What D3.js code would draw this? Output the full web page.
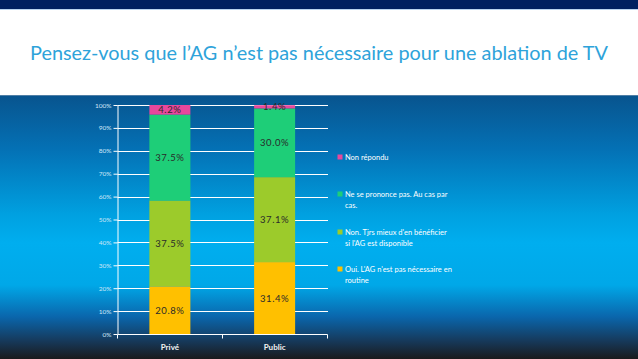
<!DOCTYPE html>
<html><head><meta charset="utf-8">
<script src="https://cdn.jsdelivr.net/npm/d3@7"></script>
<style>html,body{margin:0;padding:0;overflow:hidden;background:#fff}</style>
</head><body>
<svg id="c" width="638" height="359"></svg>
<script>
const categories = ["Privé", "Public"];
const seriesNames = [
  "Oui. L'AG n'est pas nécessaire en routine",
  "Non. Tjrs mieux d'en bénéficier si l'AG est disponible",
  "Ne se prononce pas. Au cas par cas.",
  "Non répondu"
];
const legendLines = [
  ["Oui. L'AG n'est pas nécessaire en", "routine"],
  ["Non. Tjrs mieux d'en bénéficier", "si l'AG est disponible"],
  ["Ne se prononce pas. Au cas par", "cas."],
  ["Non répondu"]
];
const oui = [20.8, 31.4];
const non = [37.5, 37.1];
const nsp = [37.5, 30.0];
const nr = [4.2, 1.4];
const colors = ["#ffc000", "#9ccb2b", "#1ece78", "#e8489c"];
const yTicks = [0,10,20,30,40,50,60,70,80,90,100];
const title = "Pensez-vous que l’AG n’est pas nécessaire pour une ablation de TV";

const svg = d3.select("#c");
const defs = svg.append("defs");
const g = defs.append("linearGradient").attr("id","bg").attr("x1",0).attr("y1",0).attr("x2",0).attr("y2",1);
[[0,"#08548e"],[0.2,"#0470b4"],[0.45,"#00a0e0"],[0.56,"#00aeef"],[0.72,"#00a8e8"],[0.84,"#0a66ac"],[0.93,"#163a5c"],[1,"#1a1a1c"]]
  .forEach(([o,c])=>g.append("stop").attr("offset",o).attr("stop-color",c));

svg.append("rect").attr("x",0).attr("y",0).attr("width",638).attr("height",359).attr("fill","#ffffff");
svg.append("rect").attr("x",0).attr("y",0).attr("width",638).attr("height",9).attr("fill","#002060");
svg.append("rect").attr("x",0).attr("y",9).attr("width",638).attr("height",1).attr("fill","#b9d3ee");
svg.append("rect").attr("x",0).attr("y",95).attr("width",638).attr("height",264).attr("fill","url(#bg)");
svg.append("rect").attr("x",0).attr("y",95).attr("width",638).attr("height",1).attr("fill","#4f7fa6");

svg.append("text").attr("x",319).attr("y",60).attr("text-anchor","middle")
  .attr("font-family","Lato, 'Open Sans', sans-serif").attr("font-size",20)
  .attr("fill","#2ea3da").attr("textLength",578).attr("lengthAdjust","spacingAndGlyphs")
  .text(title);

const x = d3.scaleBand().domain(categories).range([117.5,327]).paddingInner(0).paddingOuter(0);
const y = d3.scaleLinear().domain([0,100]).range([334,105]);
const barW = 41;

// gridlines
svg.append("g").selectAll("line").data(yTicks.slice(1)).join("line")
  .attr("x1",117.5).attr("x2",328).attr("y1",d=>Math.round(y(d))+0.5).attr("y2",d=>Math.round(y(d))+0.5)
  .attr("stroke","#ffffff").attr("stroke-width",1);

const data = categories.map((c,i)=>({cat:c, vals:[oui[i],non[i],nsp[i],nr[i]]}));
const stackData = categories.map((c,i)=>({cat:c, s0:oui[i], s1:non[i], s2:nsp[i], s3:nr[i]}));
const stack = d3.stack().keys(["s0","s1","s2","s3"]);
const layers = stack(stackData);

layers.forEach((layer,k)=>{
  svg.append("g").selectAll("rect").data(layer).join("rect")
    .attr("x",d=>x(d.data.cat)+x.bandwidth()/2-barW/2)
    .attr("width",barW)
    .attr("y",d=>y(d[1]))
    .attr("height",d=>y(d[0])-y(d[1]))
    .attr("fill",colors[k]);
});
layers.forEach((layer,k)=>{
  svg.append("g").selectAll("text").data(layer).join("text")
    .attr("x",d=>x(d.data.cat)+x.bandwidth()/2)
    .attr("y",d=>(y(d[0])+y(d[1]))/2+3.5)
    .attr("text-anchor","middle")
    .attr("font-family","Lato, 'Open Sans', sans-serif").attr("font-size",9.5)
    .attr("fill","#2a2a2a").attr("letter-spacing",0.6)
    .text(d=>(d[1]-d[0]).toFixed(1)+"%");
});

// y axis
const yAxis = d3.axisLeft(y).tickValues(yTicks).tickSize(4).tickFormat(d=>d+"%");
const ya = svg.append("g").attr("transform","translate(117.5,0)").call(yAxis);
ya.select(".domain").attr("stroke","#ffffff").attr("d","M-4,105.5H0.5V334.5H-4");
ya.selectAll(".tick line").attr("stroke","#ffffff");
ya.selectAll(".tick text").attr("fill","#cfe6f7").attr("font-family","Lato, sans-serif").attr("font-size",6.5).attr("x",-6);
ya.selectAll(".domain").attr("d","M0.5,105V334.5");

// x axis
const xa = svg.append("g").attr("transform","translate(0,334.5)");
xa.append("line").attr("x1",117.5).attr("x2",327.5).attr("y1",0).attr("y2",0).attr("stroke","#fff");
xa.selectAll("line.t").data([117.5,222.5,327.5]).join("line").attr("class","t")
  .attr("x1",d=>d).attr("x2",d=>d).attr("y1",0).attr("y2",4).attr("stroke","#fff");
xa.selectAll("text").data(categories).join("text")
  .attr("x",d=>x(d)+x.bandwidth()/2).attr("y",15).attr("text-anchor","middle")
  .attr("font-family","Lato, sans-serif").attr("font-size",8).attr("font-weight","bold")
  .attr("fill","#f2f2f2").text(d=>d);

// legend (top to bottom: reversed)
const legY = [157, 194, 232, 269];
const order = [3,2,1,0];
order.forEach((k,i)=>{
  const yy = legY[i];
  svg.append("rect").attr("x",337.5).attr("y",yy-2.5).attr("width",5).attr("height",5).attr("fill",colors[k]);
  legendLines[k].forEach((ln,j)=>{
    svg.append("text").attr("x",345).attr("y",yy+3+j*10.5)
      .attr("font-family","Lato, sans-serif").attr("font-size",7.5)
      .attr("fill","#ffffff").text(ln);
  });
});
</script>
</body></html>
